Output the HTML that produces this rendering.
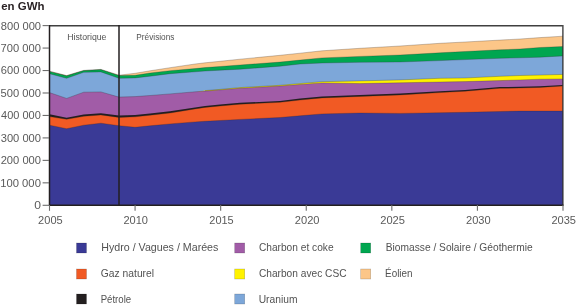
<!DOCTYPE html>
<html><head><meta charset="utf-8"><style>
html,body{margin:0;padding:0;background:#fff;width:580px;height:305px;overflow:hidden}
svg{display:block;will-change:transform}
text{font-family:"Liberation Sans",sans-serif;fill:#525252}
.ax{font-size:11px;fill:#5a5a5a}
.lg{font-size:10.2px}
.hp{font-size:9.4px}
.ttl{font-size:10.3px;font-weight:bold;fill:#2a2325}
</style></head><body>
<svg width="580" height="305" viewBox="0 0 580 305">
<rect width="580" height="305" fill="#fff"/>
<polygon points="49.5,71.2 66.6,75.6 83.7,70.4 100.9,69.4 119.0,75.2 135.1,73.3 150.0,70.8 170.0,67.7 195.0,64.0 205.0,62.8 220.0,61.3 240.0,59.2 280.0,55.3 300.0,53.2 322.0,50.8 360.0,48.3 400.0,46.0 440.0,43.3 465.0,42.0 500.0,40.1 520.0,39.0 540.0,37.6 563.0,36.2 563.0,205.0 49.5,205.0" fill="#fcc688"/>
<polygon points="49.5,71.4 66.6,75.8 83.7,70.6 100.9,69.6 119.0,75.5 135.1,75.3 150.0,73.0 170.0,70.7 195.0,68.6 205.0,67.6 220.0,66.5 240.0,65.0 280.0,62.1 300.0,60.1 322.0,57.9 360.0,56.4 400.0,55.0 440.0,52.8 465.0,51.5 500.0,49.8 520.0,49.0 540.0,47.5 563.0,46.5 563.0,205.0 49.5,205.0" fill="#00a650"/>
<polygon points="49.5,73.7 66.6,78.3 83.7,72.3 100.9,71.9 119.0,78.3 135.1,77.9 150.0,76.2 170.0,73.7 195.0,71.8 205.0,71.0 220.0,70.2 240.0,69.2 280.0,66.2 300.0,64.0 322.0,63.0 360.0,62.3 400.0,62.0 440.0,60.6 465.0,59.6 500.0,58.3 520.0,57.8 540.0,57.2 563.0,55.9 563.0,205.0 49.5,205.0" fill="#7da7d9"/>
<polygon points="49.5,93.4 66.6,99.2 83.7,93.0 100.9,92.7 119.0,97.9 135.1,97.4 150.0,96.3 170.0,94.7 195.0,92.6 205.0,90.6 220.0,89.4 240.0,87.6 280.0,85.3 300.0,83.6 322.0,81.7 360.0,80.9 400.0,79.9 440.0,78.3 465.0,78.0 500.0,76.3 520.0,75.5 540.0,75.1 563.0,74.4 563.0,205.0 49.5,205.0" fill="#fff200"/>
<polygon points="49.5,92.6 66.6,98.4 83.7,92.2 100.9,91.9 119.0,97.1 135.1,96.6 150.0,95.5 170.0,93.9 195.0,91.8 205.0,91.1 220.0,89.9 240.0,88.3 280.0,86.0 300.0,84.5 322.0,82.9 360.0,83.6 400.0,82.8 440.0,82.0 465.0,81.6 500.0,80.6 520.0,79.9 540.0,79.2 563.0,78.9 563.0,205.0 49.5,205.0" fill="#a15ca7"/>
<polygon points="49.5,114.2 66.6,117.7 83.7,114.6 100.9,113.2 119.0,115.6 135.1,114.9 150.0,113.4 170.0,111.2 195.0,107.4 205.0,106.0 220.0,104.6 240.0,102.8 280.0,100.9 300.0,98.6 322.0,96.6 360.0,95.0 400.0,93.6 440.0,91.3 465.0,89.9 500.0,87.0 520.0,86.8 540.0,86.3 563.0,84.9 563.0,205.0 49.5,205.0" fill="#231f20"/>
<polygon points="49.5,116.6 66.6,119.3 83.7,116.3 100.9,114.9 119.0,117.4 135.1,116.8 150.0,115.2 170.0,113.0 195.0,108.9 205.0,107.4 220.0,106.0 240.0,104.2 280.0,102.3 300.0,100.0 322.0,97.9 360.0,96.4 400.0,94.9 440.0,92.6 465.0,91.2 500.0,88.3 520.0,88.0 540.0,87.4 563.0,86.0 563.0,205.0 49.5,205.0" fill="#f15a24"/>
<polygon points="49.5,125.2 66.6,128.7 83.7,125.2 100.9,123.2 119.0,125.7 135.1,127.3 150.0,125.8 170.0,123.9 195.0,121.9 205.0,121.3 220.0,120.5 240.0,119.4 280.0,117.5 300.0,115.8 322.0,113.9 360.0,113.0 400.0,113.4 440.0,112.7 465.0,112.3 500.0,111.5 520.0,111.1 540.0,111.1 563.0,111.1 563.0,205.0 49.5,205.0" fill="#3a3a96"/>
<polyline points="49.5,71.2 66.6,75.6 83.7,70.4 100.9,69.4 119.0,75.2 135.1,73.3 150.0,70.8 170.0,67.7 195.0,64.0 205.0,62.8 220.0,61.3 240.0,59.2 280.0,55.3 300.0,53.2 322.0,50.8 360.0,48.3 400.0,46.0 440.0,43.3 465.0,42.0 500.0,40.1 520.0,39.0 540.0,37.6 563.0,36.2" fill="none" stroke="rgba(35,31,32,0.5)" stroke-width="0.5"/>
<polyline points="49.5,71.4 66.6,75.8 83.7,70.6 100.9,69.6 119.0,75.5 135.1,75.3 150.0,73.0 170.0,70.7 195.0,68.6 205.0,67.6 220.0,66.5 240.0,65.0 280.0,62.1 300.0,60.1 322.0,57.9 360.0,56.4 400.0,55.0 440.0,52.8 465.0,51.5 500.0,49.8 520.0,49.0 540.0,47.5 563.0,46.5" fill="none" stroke="rgba(35,31,32,0.5)" stroke-width="0.5"/>
<polyline points="49.5,73.7 66.6,78.3 83.7,72.3 100.9,71.9 119.0,78.3 135.1,77.9 150.0,76.2 170.0,73.7 195.0,71.8 205.0,71.0 220.0,70.2 240.0,69.2 280.0,66.2 300.0,64.0 322.0,63.0 360.0,62.3 400.0,62.0 440.0,60.6 465.0,59.6 500.0,58.3 520.0,57.8 540.0,57.2 563.0,55.9" fill="none" stroke="rgba(35,31,32,0.5)" stroke-width="0.5"/>
<polyline points="205.0,90.6 220.0,89.4 240.0,87.6 280.0,85.3 300.0,83.6 322.0,81.7 360.0,80.9 400.0,79.9 440.0,78.3 465.0,78.0 500.0,76.3 520.0,75.5 540.0,75.1 563.0,74.4" fill="none" stroke="rgba(35,31,32,0.5)" stroke-width="0.5"/>
<polyline points="49.5,92.6 66.6,98.4 83.7,92.2 100.9,91.9 119.0,97.1 135.1,96.6 150.0,95.5 170.0,93.9 195.0,91.8 205.0,91.1 220.0,89.9 240.0,88.3 280.0,86.0 300.0,84.5 322.0,82.9 360.0,83.6 400.0,82.8 440.0,82.0 465.0,81.6 500.0,80.6 520.0,79.9 540.0,79.2 563.0,78.9" fill="none" stroke="rgba(35,31,32,0.5)" stroke-width="0.5"/>
<polyline points="49.5,116.6 66.6,119.3 83.7,116.3 100.9,114.9 119.0,117.4 135.1,116.8 150.0,115.2 170.0,113.0 195.0,108.9 205.0,107.4 220.0,106.0 240.0,104.2 280.0,102.3 300.0,100.0 322.0,97.9 360.0,96.4 400.0,94.9 440.0,92.6 465.0,91.2 500.0,88.3 520.0,88.0 540.0,87.4 563.0,86.0" fill="none" stroke="rgba(35,31,32,0.5)" stroke-width="0.5"/>
<polyline points="49.5,125.2 66.6,128.7 83.7,125.2 100.9,123.2 119.0,125.7 135.1,127.3 150.0,125.8 170.0,123.9 195.0,121.9 205.0,121.3 220.0,120.5 240.0,119.4 280.0,117.5 300.0,115.8 322.0,113.9 360.0,113.0 400.0,113.4 440.0,112.7 465.0,112.3 500.0,111.5 520.0,111.1 540.0,111.1 563.0,111.1" fill="none" stroke="rgba(35,31,32,0.5)" stroke-width="0.5"/>
<path d="M49.5,25.7 H562.6" fill="none" stroke="#404040" stroke-width="1.4"/>
<path d="M562.9,25 V205.5" fill="none" stroke="#333" stroke-width="1.3"/>
<line x1="49.5" y1="25" x2="49.5" y2="206" stroke="#231f20" stroke-width="1.5"/>
<line x1="49" y1="205.2" x2="563.5" y2="205.2" stroke="#231f20" stroke-width="1.4"/>
<line x1="119" y1="25" x2="119" y2="206" stroke="#231f20" stroke-width="1.5"/>
<line x1="42.6" y1="205.30" x2="49" y2="205.30" stroke="#6d6d6d" stroke-width="1.1"/>
<text x="40.94" y="209.25" textLength="6.75" lengthAdjust="spacingAndGlyphs" text-anchor="end" class="ax">0</text>
<line x1="42.6" y1="182.84" x2="49" y2="182.84" stroke="#6d6d6d" stroke-width="1.1"/>
<text x="40.89" y="186.79" textLength="40.63" lengthAdjust="spacingAndGlyphs" text-anchor="end" class="ax">100 000</text>
<line x1="42.6" y1="160.38" x2="49" y2="160.38" stroke="#6d6d6d" stroke-width="1.1"/>
<text x="41.02" y="164.32" textLength="40.37" lengthAdjust="spacingAndGlyphs" text-anchor="end" class="ax">200 000</text>
<line x1="42.6" y1="137.91" x2="49" y2="137.91" stroke="#6d6d6d" stroke-width="1.1"/>
<text x="41.01" y="141.86" textLength="40.32" lengthAdjust="spacingAndGlyphs" text-anchor="end" class="ax">300 000</text>
<line x1="42.6" y1="115.45" x2="49" y2="115.45" stroke="#6d6d6d" stroke-width="1.1"/>
<text x="40.80" y="119.40" textLength="39.69" lengthAdjust="spacingAndGlyphs" text-anchor="end" class="ax">400 000</text>
<line x1="42.6" y1="92.99" x2="49" y2="92.99" stroke="#6d6d6d" stroke-width="1.1"/>
<text x="40.98" y="96.94" textLength="40.40" lengthAdjust="spacingAndGlyphs" text-anchor="end" class="ax">500 000</text>
<line x1="42.6" y1="70.53" x2="49" y2="70.53" stroke="#6d6d6d" stroke-width="1.1"/>
<text x="41.01" y="74.48" textLength="40.13" lengthAdjust="spacingAndGlyphs" text-anchor="end" class="ax">600 000</text>
<line x1="42.6" y1="48.06" x2="49" y2="48.06" stroke="#6d6d6d" stroke-width="1.1"/>
<text x="40.92" y="52.01" textLength="40.31" lengthAdjust="spacingAndGlyphs" text-anchor="end" class="ax">700 000</text>
<line x1="42.6" y1="25.60" x2="49" y2="25.60" stroke="#6d6d6d" stroke-width="1.1"/>
<text x="41.04" y="29.55" textLength="40.24" lengthAdjust="spacingAndGlyphs" text-anchor="end" class="ax">800 000</text>
<line x1="49.50" y1="205" x2="49.50" y2="210.8" stroke="#6d6d6d" stroke-width="1.1"/>
<text x="50.41" y="223.70" textLength="24.60" lengthAdjust="spacingAndGlyphs" text-anchor="middle" class="ax">2005</text>
<line x1="135.08" y1="205" x2="135.08" y2="210.8" stroke="#6d6d6d" stroke-width="1.1"/>
<text x="135.74" y="223.70" textLength="24.58" lengthAdjust="spacingAndGlyphs" text-anchor="middle" class="ax">2010</text>
<line x1="220.67" y1="205" x2="220.67" y2="210.8" stroke="#6d6d6d" stroke-width="1.1"/>
<text x="221.50" y="223.70" textLength="24.36" lengthAdjust="spacingAndGlyphs" text-anchor="middle" class="ax">2015</text>
<line x1="306.25" y1="205" x2="306.25" y2="210.8" stroke="#6d6d6d" stroke-width="1.1"/>
<text x="307.20" y="223.70" textLength="24.70" lengthAdjust="spacingAndGlyphs" text-anchor="middle" class="ax">2020</text>
<line x1="391.83" y1="205" x2="391.83" y2="210.8" stroke="#6d6d6d" stroke-width="1.1"/>
<text x="392.64" y="223.70" textLength="24.79" lengthAdjust="spacingAndGlyphs" text-anchor="middle" class="ax">2025</text>
<line x1="477.42" y1="205" x2="477.42" y2="210.8" stroke="#6d6d6d" stroke-width="1.1"/>
<text x="478.30" y="223.70" textLength="24.65" lengthAdjust="spacingAndGlyphs" text-anchor="middle" class="ax">2030</text>
<line x1="563.00" y1="205" x2="563.00" y2="210.8" stroke="#6d6d6d" stroke-width="1.1"/>
<text x="563.73" y="223.70" textLength="24.60" lengthAdjust="spacingAndGlyphs" text-anchor="middle" class="ax">2035</text>
<text x="1.25" y="9.60" textLength="43.25" lengthAdjust="spacingAndGlyphs" text-anchor="start" class="ttl">en GWh</text>
<text x="67.15" y="39.60" textLength="39.35" lengthAdjust="spacingAndGlyphs" text-anchor="start" class="hp">Historique</text>
<text x="136.36" y="39.60" textLength="38.04" lengthAdjust="spacingAndGlyphs" text-anchor="start" class="hp">Prévisions</text>
<rect x="76.5" y="243" width="10" height="10" fill="#3a3a96" stroke="rgba(0,0,0,0.25)" stroke-width="0.6"/>
<text x="101.25" y="251.10" textLength="117.15" lengthAdjust="spacingAndGlyphs" text-anchor="start" class="lg">Hydro / Vagues / Marées</text>
<rect x="76.5" y="269" width="10" height="10" fill="#f15a24" stroke="rgba(0,0,0,0.25)" stroke-width="0.6"/>
<text x="100.82" y="277.20" textLength="53.26" lengthAdjust="spacingAndGlyphs" text-anchor="start" class="lg">Gaz naturel</text>
<rect x="76.5" y="294" width="10" height="10" fill="#231f20" stroke="rgba(0,0,0,0.25)" stroke-width="0.6"/>
<text x="100.68" y="302.70" textLength="30.43" lengthAdjust="spacingAndGlyphs" text-anchor="start" class="lg">Pétrole</text>
<rect x="234.7" y="243" width="10" height="10" fill="#a15ca7" stroke="rgba(0,0,0,0.25)" stroke-width="0.6"/>
<text x="258.90" y="251.40" textLength="74.67" lengthAdjust="spacingAndGlyphs" text-anchor="start" class="lg">Charbon et coke</text>
<rect x="234.7" y="269" width="10" height="10" fill="#fff200" stroke="rgba(0,0,0,0.25)" stroke-width="0.6"/>
<text x="258.92" y="276.90" textLength="87.64" lengthAdjust="spacingAndGlyphs" text-anchor="start" class="lg">Charbon avec CSC</text>
<rect x="234.7" y="294" width="10" height="10" fill="#7da7d9" stroke="rgba(0,0,0,0.25)" stroke-width="0.6"/>
<text x="258.70" y="302.70" textLength="38.77" lengthAdjust="spacingAndGlyphs" text-anchor="start" class="lg">Uranium</text>
<rect x="360.7" y="243" width="10" height="10" fill="#00a650" stroke="rgba(0,0,0,0.25)" stroke-width="0.6"/>
<text x="385.76" y="251.30" textLength="146.96" lengthAdjust="spacingAndGlyphs" text-anchor="start" class="lg">Biomasse / Solaire / Géothermie</text>
<rect x="360.7" y="269" width="10" height="10" fill="#fcc688" stroke="rgba(0,0,0,0.25)" stroke-width="0.6"/>
<text x="385.06" y="276.90" textLength="27.46" lengthAdjust="spacingAndGlyphs" text-anchor="start" class="lg">Éolien</text>
</svg>
</body></html>
